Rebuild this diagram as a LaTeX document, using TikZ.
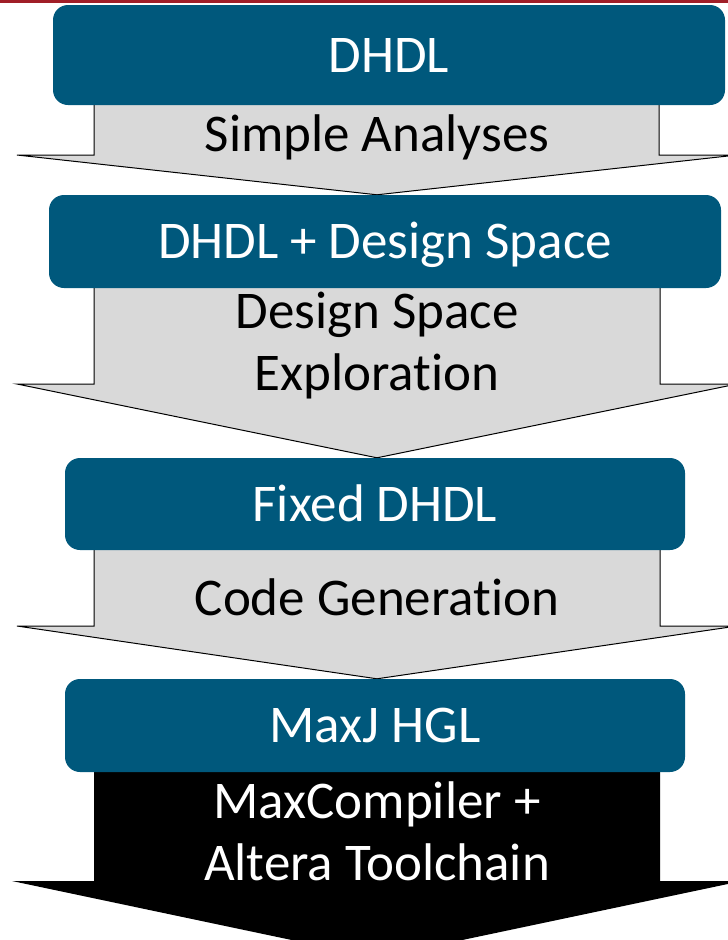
\documentclass[tikz,border=0pt]{standalone}
\usepackage{fontspec}
\setmainfont[Ligatures=CommonOff]{Carlito}
\usetikzlibrary{backgrounds}
\definecolor{boxblue}{RGB}{0,88,124}
\definecolor{arrowgray}{RGB}{217,217,217}
\definecolor{topred}{RGB}{160,30,40}

\begin{document}
\begin{tikzpicture}[x=1pt,y=-1pt,
  stage/.style={fill=boxblue, rounded corners=15pt, inner sep=0pt,
    text=white, text height=34pt, text depth=0pt,
    font=\fontsize{53}{62}\selectfont},
  grayarrow/.style={fill=arrowgray, draw=black, line width=1pt, line join=miter},
  blackarrow/.style={fill=black},
  steplabel/.style={inner sep=0pt, align=center, font=\fontsize{53}{62}\selectfont}]

\useasboundingbox (0,0) rectangle (728,940);
\fill[topred] (0,0) rectangle (728,2.5);

\coordinate (axis) at (377,0);

% stage boxes
\node[stage, minimum width=672pt, minimum height=100pt] (b1) at (389,55)    {DHDL};
\node[stage, minimum width=672pt, minimum height=93pt]  (b2) at (385,241.5) {DHDL + Design Space};
\node[stage, minimum width=620pt, minimum height=92pt]  (b3) at (375,504)   {Fixed DHDL};
\node[stage, minimum width=620pt, minimum height=93pt]  (b4) at (375,725.5) {MaxJ HGL};

% block arrows between the stages, behind the boxes
\begin{scope}[on background layer]
\filldraw[grayarrow] (94,0 |- b1.center) -- (94,155) -- (17,155) -- (axis |- b2.north)
  -- (737,155) -- (659,155) -- (659,0 |- b1.center) -- cycle;
\filldraw[grayarrow] (94,0 |- b2.center) -- (94,384) -- (17,384) -- (axis |- b3.north)
  -- (737,384) -- (660,384) -- (660,0 |- b2.center) -- cycle;
\filldraw[grayarrow] (94,0 |- b3.center) -- (94,626) -- (17,626) -- (axis |- b4.north)
  -- (737,626) -- (660,626) -- (660,0 |- b3.center) -- cycle;
\fill[blackarrow] (94,0 |- b4.center) -- (94,881) -- (12,881) -- (377,958)
  -- (742,881) -- (660,881) -- (660,0 |- b4.center) -- cycle;
\end{scope}

% transformation labels
\node[steplabel] (l1) at (377,137) {Simple Analyses};
\node[steplabel] (l2) at (377,346) {Design Space\\Exploration};
\node[steplabel] (l3) at (377,597) {Code Generation};
\node[steplabel, text=white] (l4) at (377,831) {MaxCompiler +\\Altera Toolchain};
\end{tikzpicture}
\end{document}
